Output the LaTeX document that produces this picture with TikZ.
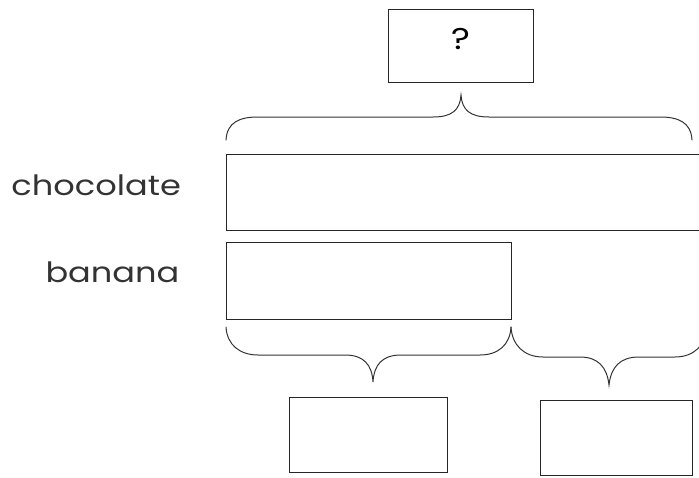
\documentclass[tikz,border=0pt]{standalone}
\usepackage{fontspec}
\setmainfont{Poppins}[FakeStretch=1.2]

\begin{document}
\begin{tikzpicture}[x=1pt, y=-1pt, line width=1pt,
  bar/.style={draw=black!85, minimum width=#1, inner sep=0pt, outer sep=0pt},
  bar/.default=150pt,
  word/.style={anchor=base west, inner sep=0pt, font=\fontsize{28}{30}\selectfont, text=black!80},
  curly/.style={draw=black!80, line cap=round}]
  \clip (0, 0) rectangle (699, 477);

  % boxes
  \node[bar=145pt, minimum height=73pt, font=\fontsize{30}{32}\selectfont] (ask) at (460.5, 45.5) {\raisebox{14pt}{?}};
  \node[bar=494pt, minimum height=76pt] (choc) at (473, 192) {};
  \node[bar=285pt, minimum height=77pt] (ban) at (368.5, 280.5) {};
  \node[bar=158pt, minimum height=75pt] (left) at (368, 434.5) {};
  \node[bar=152pt, minimum height=75pt] (right) at (616, 437.5) {};

  % labels
  \node[word] (choclabel) at (11, 195) {chocolate};
  \node[word] (banlabel) at (45, 282) {banana};

  % braces
  \draw[curly] (226, 140) .. controls (227, 122) and (240, 117) .. (258, 117) -- (433, 117)
    .. controls (452, 117) and (460, 110) .. (461, 95) .. controls (462, 110) and (470, 117) .. (489, 117)
    -- (660, 117) .. controls (678, 117) and (691, 122) .. (692, 140);
  \draw[curly] (226, 327) .. controls (227, 345) and (240, 355) .. (258, 355) -- (345, 355)
    .. controls (364, 355) and (372, 365) .. (373, 382) .. controls (374, 365) and (382, 355) .. (401, 355)
    -- (480, 355) .. controls (498, 355) and (510, 345) .. (511, 327);
  \draw[curly] (511, 327) .. controls (512, 345) and (524, 357) .. (543, 357) -- (580, 357)
    .. controls (598, 357) and (607, 367) .. (609, 385) .. controls (611, 367) and (620, 357) .. (639, 357)
    -- (675, 357) .. controls (694, 357) and (706, 345) .. (707, 327);
\end{tikzpicture}
\end{document}
